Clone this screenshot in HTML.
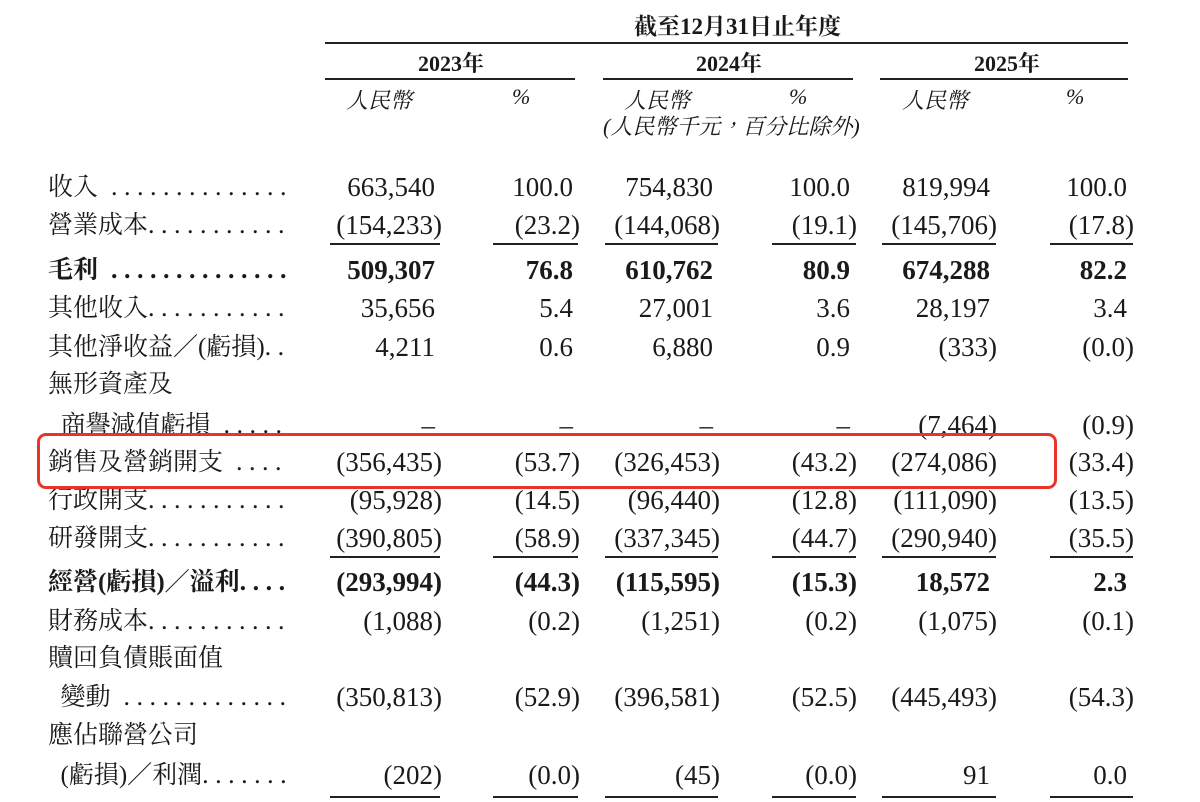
<!DOCTYPE html>
<html><head><meta charset="utf-8"><style>
html,body{margin:0;padding:0;background:#fff;}
body{width:1200px;height:802px;position:relative;overflow:hidden;color:#1a1a1a;
font-family:"Liberation Serif","Noto Serif CJK SC",serif;}
.r{position:absolute;left:0;width:1200px;height:30px;line-height:30px;font-size:27px;}
.l{position:absolute;left:48px;width:240px;overflow:hidden;white-space:nowrap;font-size:25px;font-family:"Liberation Serif","Noto Serif CJK TC",serif;}
.l .d{letter-spacing:6.5px;font-size:26px;}
.c{position:absolute;text-align:right;width:160px;white-space:nowrap;}
.p{margin-right:-7px;}
.b{font-weight:bold;}
.c1{left:275px}.c2{left:413px}.c3{left:553px}.c4{left:690px}.c5{left:830px}.c6{left:967px}
.ln{position:absolute;height:1.5px;background:#222;}
.h{position:absolute;font-size:22px;white-space:nowrap;font-family:"Liberation Serif","Noto Serif CJK TC",serif;}
</style></head><body>
<div class="h b" style="left:634px;top:8px;font-weight:bold;font-size:23px;">截至12月31日止年度</div>
<div class="ln" style="left:325px;width:803px;top:42px;"></div>
<div class="h b" style="left:418px;top:47px;font-weight:bold;">2023年</div>
<div class="h b" style="left:696px;top:47px;font-weight:bold;">2024年</div>
<div class="h b" style="left:974px;top:47px;font-weight:bold;">2025年</div>
<div class="ln" style="left:325px;width:250px;top:78px;"></div>
<div class="ln" style="left:603px;width:250px;top:78px;"></div>
<div class="ln" style="left:880px;width:248px;top:78px;"></div>
<div class="h" style="left:346px;top:84px;font-style:italic;">人民幣</div>
<div class="h" style="left:512px;top:84px;font-style:italic;">%</div>
<div class="h" style="left:624px;top:84px;font-style:italic;">人民幣</div>
<div class="h" style="left:789px;top:84px;font-style:italic;">%</div>
<div class="h" style="left:902px;top:84px;font-style:italic;">人民幣</div>
<div class="h" style="left:1066px;top:84px;font-style:italic;">%</div>
<div class="h" style="left:603px;top:110px;font-style:italic;">(人民幣千元，百分比除外)</div>

<div class="r" style="top:172px"><div class="l">收入<span class="d"> ....................</span></div>
<div class="c c1">663,540</div><div class="c c2">100.0</div><div class="c c3">754,830</div><div class="c c4">100.0</div><div class="c c5">819,994</div><div class="c c6">100.0</div></div>
<div class="r" style="top:210px"><div class="l">營業成本<span class="d">....................</span></div>
<div class="c c1">(154,233<span class="p">)</span></div><div class="c c2">(23.2<span class="p">)</span></div><div class="c c3">(144,068<span class="p">)</span></div><div class="c c4">(19.1<span class="p">)</span></div><div class="c c5">(145,706<span class="p">)</span></div><div class="c c6">(17.8<span class="p">)</span></div></div>
<div class="ln" style="left:330px;width:110px;top:243px"></div><div class="ln" style="left:493px;width:85px;top:243px"></div>
<div class="ln" style="left:605px;width:113px;top:243px"></div><div class="ln" style="left:772px;width:84px;top:243px"></div>
<div class="ln" style="left:882px;width:114px;top:243px"></div><div class="ln" style="left:1050px;width:83px;top:243px"></div>

<div class="r b" style="top:255px"><div class="l b">毛利<span class="d"> ....................</span></div>
<div class="c c1">509,307</div><div class="c c2">76.8</div><div class="c c3">610,762</div><div class="c c4">80.9</div><div class="c c5">674,288</div><div class="c c6">82.2</div></div>
<div class="r" style="top:293px"><div class="l">其他收入<span class="d">....................</span></div>
<div class="c c1">35,656</div><div class="c c2">5.4</div><div class="c c3">27,001</div><div class="c c4">3.6</div><div class="c c5">28,197</div><div class="c c6">3.4</div></div>
<div class="r" style="top:332px"><div class="l">其他淨收益／(虧損)<span class="d">....</span></div>
<div class="c c1">4,211</div><div class="c c2">0.6</div><div class="c c3">6,880</div><div class="c c4">0.9</div><div class="c c5">(333<span class="p">)</span></div><div class="c c6">(0.0<span class="p">)</span></div></div>
<div class="r" style="top:370px"><div class="l">無形資產及</div></div>
<div class="r" style="top:410px"><div class="l">&nbsp;&nbsp;商譽減值虧損<span class="d"> ..........</span></div>
<div class="c c1">–</div><div class="c c2">–</div><div class="c c3">–</div><div class="c c4">–</div><div class="c c5">(7,464<span class="p">)</span></div><div class="c c6">(0.9<span class="p">)</span></div></div>
<div class="r" style="top:447px"><div class="l">銷售及營銷開支<span class="d"> ..........</span></div>
<div class="c c1">(356,435<span class="p">)</span></div><div class="c c2">(53.7<span class="p">)</span></div><div class="c c3">(326,453<span class="p">)</span></div><div class="c c4">(43.2<span class="p">)</span></div><div class="c c5">(274,086<span class="p">)</span></div><div class="c c6">(33.4<span class="p">)</span></div></div>
<div class="r" style="top:485px"><div class="l">行政開支<span class="d">....................</span></div>
<div class="c c1">(95,928<span class="p">)</span></div><div class="c c2">(14.5<span class="p">)</span></div><div class="c c3">(96,440<span class="p">)</span></div><div class="c c4">(12.8<span class="p">)</span></div><div class="c c5">(111,090<span class="p">)</span></div><div class="c c6">(13.5<span class="p">)</span></div></div>
<div class="r" style="top:523px"><div class="l">研發開支<span class="d">....................</span></div>
<div class="c c1">(390,805<span class="p">)</span></div><div class="c c2">(58.9<span class="p">)</span></div><div class="c c3">(337,345<span class="p">)</span></div><div class="c c4">(44.7<span class="p">)</span></div><div class="c c5">(290,940<span class="p">)</span></div><div class="c c6">(35.5<span class="p">)</span></div></div>
<div class="ln" style="left:330px;width:110px;top:556px"></div><div class="ln" style="left:493px;width:85px;top:556px"></div>
<div class="ln" style="left:605px;width:113px;top:556px"></div><div class="ln" style="left:772px;width:84px;top:556px"></div>
<div class="ln" style="left:882px;width:114px;top:556px"></div><div class="ln" style="left:1050px;width:83px;top:556px"></div>

<div class="r b" style="top:567px"><div class="l b">經營(虧損)／溢利<span class="d">......</span></div>
<div class="c c1">(293,994<span class="p">)</span></div><div class="c c2">(44.3<span class="p">)</span></div><div class="c c3">(115,595<span class="p">)</span></div><div class="c c4">(15.3<span class="p">)</span></div><div class="c c5">18,572</div><div class="c c6">2.3</div></div>
<div class="r" style="top:606px"><div class="l">財務成本<span class="d">....................</span></div>
<div class="c c1">(1,088<span class="p">)</span></div><div class="c c2">(0.2<span class="p">)</span></div><div class="c c3">(1,251<span class="p">)</span></div><div class="c c4">(0.2<span class="p">)</span></div><div class="c c5">(1,075<span class="p">)</span></div><div class="c c6">(0.1<span class="p">)</span></div></div>
<div class="r" style="top:644px"><div class="l">贖回負債賬面值</div></div>
<div class="r" style="top:682px"><div class="l">&nbsp;&nbsp;變動<span class="d"> ....................</span></div>
<div class="c c1">(350,813<span class="p">)</span></div><div class="c c2">(52.9<span class="p">)</span></div><div class="c c3">(396,581<span class="p">)</span></div><div class="c c4">(52.5<span class="p">)</span></div><div class="c c5">(445,493<span class="p">)</span></div><div class="c c6">(54.3<span class="p">)</span></div></div>
<div class="r" style="top:721px"><div class="l">應佔聯營公司</div></div>
<div class="r" style="top:760px"><div class="l">&nbsp;&nbsp;(虧損)／利潤<span class="d">..........</span></div>
<div class="c c1">(202<span class="p">)</span></div><div class="c c2">(0.0<span class="p">)</span></div><div class="c c3">(45<span class="p">)</span></div><div class="c c4">(0.0<span class="p">)</span></div><div class="c c5">91</div><div class="c c6">0.0</div></div>
<div class="ln" style="left:330px;width:110px;top:796px"></div><div class="ln" style="left:493px;width:85px;top:796px"></div>
<div class="ln" style="left:605px;width:113px;top:796px"></div><div class="ln" style="left:772px;width:84px;top:796px"></div>
<div class="ln" style="left:882px;width:114px;top:796px"></div><div class="ln" style="left:1050px;width:83px;top:796px"></div>

<div style="position:absolute;left:37px;top:433px;width:1014px;height:50px;border:3px solid #e8352c;border-radius:9px;"></div>
</body></html>
